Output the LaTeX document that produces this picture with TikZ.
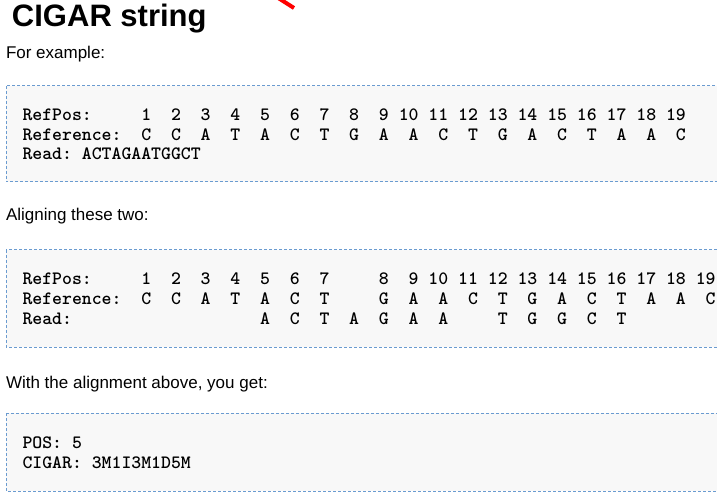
\documentclass[tikz,border=0pt]{standalone}
\usepackage{fontspec}
\setmainfont{Liberation Sans}
\definecolor{boxfill}{HTML}{F8F8F8}
\definecolor{boxline}{HTML}{6A9BD0}
\begin{document}
\begin{tikzpicture}[x=1pt,y=-1pt,
  txt/.style={anchor=base west,inner sep=0pt,outer sep=0pt,font=\fontsize{17}{17}\selectfont},
  ttl/.style={anchor=base west,inner sep=0pt,outer sep=0pt,font=\bfseries\fontsize{31}{31}\selectfont},
  code/.style={anchor=base west,inner sep=0pt,outer sep=0pt,font=\ttfamily\bfseries\fontsize{18.86}{18.86}\selectfont},
  codebox/.style={fill=boxfill,draw=boxline,line width=1pt,dash pattern=on 3pt off 2pt}]
\useasboundingbox (0,0) rectangle (717,494);
\clip (0,0) rectangle (717,494);
\frenchspacing
% red arrow fragment
\coordinate (ra) at (272,-6);
\coordinate (rb) at (294,8);
\draw[red,line width=4pt] (ra) -- (rb);
% title and captions
\node[ttl] (title) at (12,27) {CIGAR string};
\node[txt] (cap1) at (6,59) {For example:};
% box 1
\path[codebox] (6,86) rectangle (722,182);
\node[code] (b1r1) at (22.5,121) {RefPos:~~~~~1~~2~~3~~4~~5~~6~~7~~8~~9~10~11~12~13~14~15~16~17~18~19};
\node[code] (b1r2) at (22.5,140.5) {Reference:~~C~~C~~A~~T~~A~~C~~T~~G~~A~~A~~C~~T~~G~~A~~C~~T~~A~~A~~C};
\node[code] (b1r3) at (22.5,160) {Read:~ACTAGAATGGCT};
\node[txt] (cap2) at (6,221) {Aligning these two:};
% box 2
\path[codebox] (6,250) rectangle (722,347);
\node[code] (b2r1) at (22.5,284) {RefPos:~~~~~1~~2~~3~~4~~5~~6~~7~~~~~8~~9~10~11~12~13~14~15~16~17~18~19};
\node[code] (b2r2) at (22.5,304) {Reference:~~C~~C~~A~~T~~A~~C~~T~~~~~G~~A~~A~~C~~T~~G~~A~~C~~T~~A~~A~~C};
\node[code] (b2r3) at (22.5,324) {Read:~~~~~~~~~~~~~~~~~~~A~~C~~T~~A~~G~~A~~A~~~~~T~~G~~G~~C~~T};
\node[txt] (cap3) at (6,388) {With the alignment above, you get:};
% box 3
\path[codebox] (6,413) rectangle (722,491);
\node[code] (b3r1) at (22.5,448) {POS:~5};
\node[code] (b3r2) at (22.5,468) {CIGAR:~3M1I3M1D5M};
\end{tikzpicture}
\end{document}
